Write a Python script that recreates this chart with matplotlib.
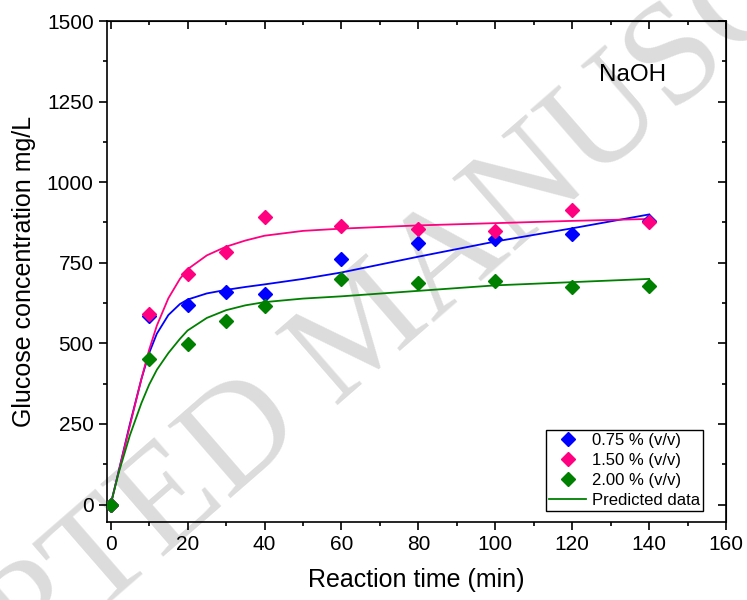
import matplotlib.pyplot as plt
from matplotlib.lines import Line2D
from matplotlib.ticker import MultipleLocator

plt.rcParams['font.family'] = ['Liberation Sans', 'DejaVu Sans']

# measured points
time_min = [0, 10, 20, 30, 40, 60, 80, 100, 120, 140]
glu_075 = [0, 584, 619, 660, 653, 761, 811, 824, 839, 880]
glu_150 = [0, 590, 714, 783, 891, 865, 854, 850, 914, 878]
glu_200 = [0, 452, 497, 570, 616, 700, 688, 692, 674, 678]

# predicted curves
fit_time = [0, 2, 5, 8, 10, 12, 15, 18, 20, 25, 30, 35, 40, 50, 60, 80, 100, 120, 140]
fit_075 = [0, 100, 250, 390, 470, 530, 588, 622, 636, 655, 666, 675, 683, 700, 720, 769, 816, 857, 900]
fit_150 = [0, 98, 245, 390, 480, 555, 640, 700, 730, 773, 800, 819, 834, 849, 856, 866, 873, 880, 886]
fit_200 = [0, 95, 215, 315, 372, 418, 470, 514, 540, 579, 603, 618, 628, 639, 646, 663, 680, 690, 700]

labels = ['0.75 % (v/v)', '1.50 % (v/v)', '2.00 % (v/v)']
colors = ['#0000ff', '#ff0080', '#008000']

fig = plt.figure(figsize=(7.47, 6), dpi=100)
ax = fig.add_axes([0.143, 0.130, 0.829, 0.835])
ax.set_facecolor('none')

# watermark behind everything
fig.text(0.493, 0.447, 'ACCEPTED MANUSCRIPT', family='Liberation Serif', fontsize=105,
         color='#dcdcdc', rotation=41, ha='center', va='center', zorder=-1)

for fy, c in zip([fit_075, fit_150, fit_200], colors):
    ax.plot(fit_time, fy, color=c, lw=1.3, zorder=2)

for ys, c in zip([glu_075, glu_150, glu_200], colors):
    ax.plot(time_min, ys, 'D', color=c, ms=7.5, mec=c, ls='none', zorder=3)

ax.set_xlim(-1, 160)
ax.set_ylim(-54, 1500)
ax.xaxis.set_major_locator(MultipleLocator(20))
ax.xaxis.set_minor_locator(MultipleLocator(10))
ax.yaxis.set_major_locator(MultipleLocator(250))
ax.yaxis.set_minor_locator(MultipleLocator(125))
ax.tick_params(which='both', direction='out', labelsize=15, width=1.2)
ax.tick_params(which='major', length=6)
ax.tick_params(which='minor', length=3)
for s in ax.spines.values():
    s.set_linewidth(1.2)

# mirrored inward ticks on top/right
axt = ax.secondary_xaxis('top')
axt.xaxis.set_major_locator(MultipleLocator(20))
axt.xaxis.set_minor_locator(MultipleLocator(10))
axt.tick_params(which='both', direction='in', labeltop=False, width=1.2)
axt.tick_params(which='major', length=6)
axt.tick_params(which='minor', length=3)
axr = ax.secondary_yaxis('right')
axr.yaxis.set_major_locator(MultipleLocator(250))
axr.yaxis.set_minor_locator(MultipleLocator(125))
axr.tick_params(which='both', direction='in', labelright=False, width=1.2)
axr.tick_params(which='major', length=6)
axr.tick_params(which='minor', length=3)

ax.set_xlabel('Reaction time (min)', fontsize=18, labelpad=10)
ax.set_ylabel('Glucose concentration mg/L', fontsize=18, labelpad=8)

ax.text(135.7, 1333, 'NaOH', fontsize=17.5, ha='center', va='center')

handles = [Line2D([], [], marker='D', color=c, ls='none', ms=7.5) for c in colors]
handles.append(Line2D([], [], color=colors[2], lw=1.3))
leg = ax.legend(handles, labels + ['Predicted data'], loc='lower right',
                bbox_to_anchor=(0.963, 0.021), borderaxespad=0, fontsize=12,
                frameon=True, fancybox=False, edgecolor='black', framealpha=1,
                handlelength=2.2, handletextpad=0.35, labelspacing=0.3, borderpad=0.2)
leg.get_frame().set_linewidth(1.0)

fig.savefig('out.png', dpi=100)
